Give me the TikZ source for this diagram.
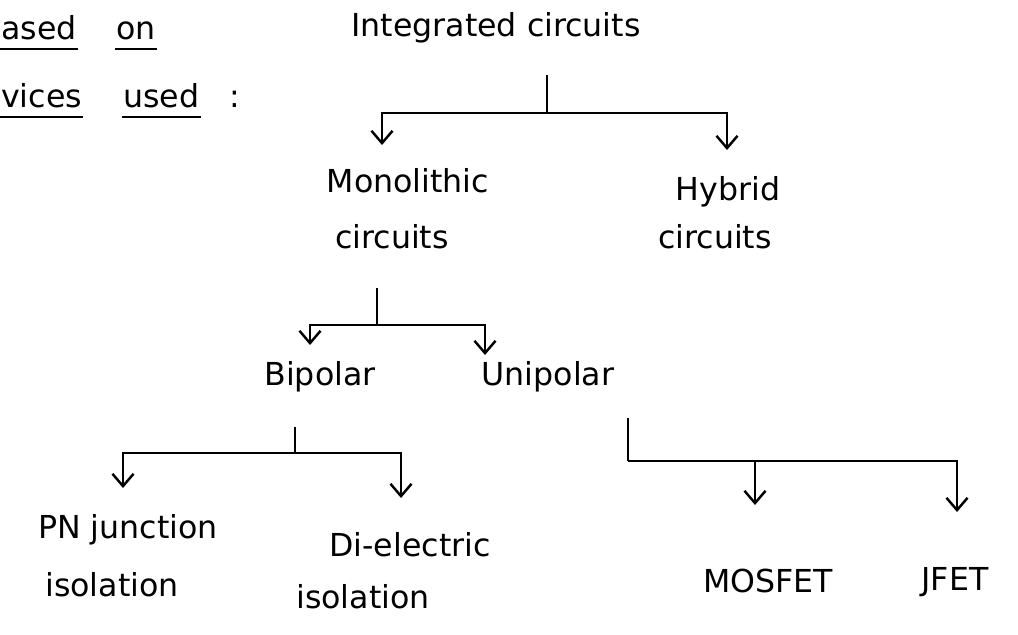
\documentclass[tikz,border=0pt]{standalone}
\usepackage{fontspec}
\setmainfont{DejaVu Sans}
\usetikzlibrary{arrows.meta}

\begin{document}
\begin{tikzpicture}[x=0.02cm, y=-0.02cm, line width=1.4pt,
	every node/.style={font=\fontsize{18}{21}\selectfont, inner sep=0pt, anchor=base},
	>={Straight Barb[length=7pt,width=12pt]}]
	\useasboundingbox (0,0) rectangle (1018,635);
	% heading, cut at the left edge
	\node[anchor=base west] (based) at (0,40) {ased};
	\node[anchor=base west] (on) at (115,40) {on};
	\node[anchor=base west] (dev) at (0,108) {vices};
	\node[anchor=base west] (used) at (122,108) {used};
	\node[anchor=base west] (colon) at (228,108) {:};
	\foreach \w in {based,on,dev,used}
		\draw ([yshift=-5pt]\w.base west) -- ([yshift=-5pt]\w.base east);
	
	% labels of the tree
	\node (ic) at (496,37) {Integrated circuits};
	\node (mono) at (408,193) {Monolithic};
	\node (mono2) at (392,248) {circuits};
	\node (hyb) at (728,200) {Hybrid};
	\node (hyb2) at (715,248) {circuits};
	\node (bip) at (320,385) {Bipolar};
	\node (unip) at (548,385) {Unipolar};
	\node (pn) at (128,538) {PN junction};
	\node (pn2) at (112,596) {isolation};
	\node (di) at (410,556) {Di-electric};
	\node (di2) at (363,608) {isolation};
	\node (mos) at (768,592) {MOSFET};
	\node (jfet) at (955,590) {JFET};
	
	% stems, bars and arrows
	\coordinate (ic-s) at (547,75);    \coordinate (ic-j) at (547,113);
	\coordinate (mono-in) at (382,145); \coordinate (hyb-in) at (727,150);
	\coordinate (mono-s) at (377,288); \coordinate (mono-j) at (377,325);
	\coordinate (bip-in) at (310,345); \coordinate (unip-in) at (485,355);
	\coordinate (bip-s) at (295,427);  \coordinate (bip-j) at (295,453);
	\coordinate (pn-in) at (123,488);  \coordinate (di-in) at (401,498);
	\coordinate (unip-s) at (628,418); \coordinate (unip-j) at (628,461);
	\coordinate (mos-in) at (755,505); \coordinate (jfet-in) at (957,512);
	\foreach \s/\j/\a/\b in {ic-s/ic-j/mono-in/hyb-in, mono-s/mono-j/bip-in/unip-in,
		bip-s/bip-j/pn-in/di-in, unip-s/unip-j/mos-in/jfet-in} {
		\draw (\s) -- (\j);
		\draw[->] (\j) -| (\a);
		\draw[->] (\j) -| (\b);
	}
	
\end{tikzpicture}
\end{document}
